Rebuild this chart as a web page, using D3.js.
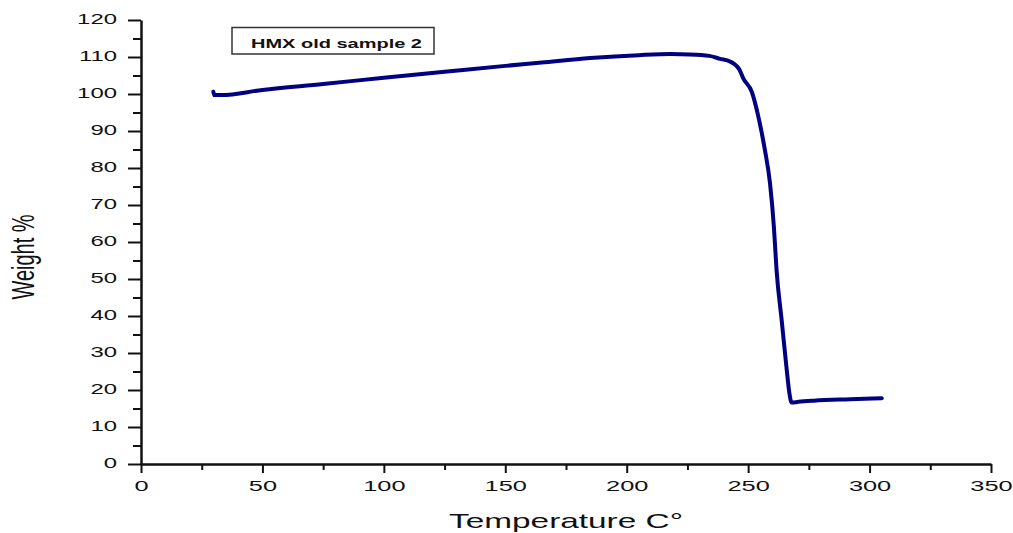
<!DOCTYPE html>
<html>
<head>
<meta charset="utf-8">
<script src="https://cdn.jsdelivr.net/npm/d3@7"></script>
<style>
  html, body { margin: 0; padding: 0; background: #fff; }
  svg { display: block; }
  text { font-family: "Liberation Sans", Arial, sans-serif; fill: #111; }
</style>
</head>
<body>
<svg id="chart" width="1013" height="533"></svg>
<script>
// ---- data ----
const temperature = [29.8, 30.2, 33, 50, 75, 100, 125, 150, 165, 185, 205, 218, 226, 234, 238.5, 242.5, 245.5, 246.5, 248, 251.5, 254.2, 256.9, 259, 260.6, 261.7, 263.8, 265.9, 267, 267.9, 270.7, 277, 292, 305];
const weight      = [100.6, 99.7, 99.7, 101.1, 102.7, 104.4, 106.0, 107.6, 108.5, 109.7, 110.5, 110.8, 110.7, 110.3, 109.5, 108.8, 107.4, 106.5, 104.2, 100.6, 93.9, 84.9, 75.9, 64.1, 52.4, 38.9, 25.4, 19.1, 16.6, 16.8, 17.1, 17.5, 17.8];
const xTicks = [0, 50, 100, 150, 200, 250, 300, 350];
const xMinorTicks = [25, 75, 125, 175, 225, 275, 325];
const yTicks = [0, 10, 20, 30, 40, 50, 60, 70, 80, 90, 100, 110, 120];
const yMinorTicks = [5, 15, 25, 35, 45, 55, 65, 75, 85, 95, 105, 115];
const legendLabel = "HMX old sample 2";
const xTitle = "Temperature C°";
const yTitle = "Weight %";

const data = temperature.map((t, i) => ({ t, w: weight[i] }));

// ---- layout ----
const svg = d3.select("#chart");
const plotLeft = 141, plotRight = 991, plotTop = 20, plotBottom = 464;
const stretch = 1.65; // horizontal glyph stretch seen in the reference

const x = d3.scaleLinear().domain([0, 350]).range([plotLeft, plotRight]);
const y = d3.scaleLinear().domain([0, 120]).range([plotBottom, plotTop]);

// minor ticks
svg.append("g")
  .attr("transform", `translate(0,${plotBottom})`)
  .call(d3.axisBottom(x).tickValues(xMinorTicks).tickSize(6).tickFormat(""))
  .call(g => g.select(".domain").remove())
  .call(g => g.selectAll("line").attr("stroke", "#111").attr("stroke-width", 2));
svg.append("g")
  .attr("transform", `translate(${plotLeft},0)`)
  .call(d3.axisLeft(y).tickValues(yMinorTicks).tickSize(8).tickFormat(""))
  .call(g => g.select(".domain").remove())
  .call(g => g.selectAll("line").attr("stroke", "#111").attr("stroke-width", 2));

// x axis
const xAxis = svg.append("g")
  .attr("transform", `translate(0,${plotBottom})`)
  .call(d3.axisBottom(x).tickValues(xTicks).tickSize(9).tickSizeOuter(0).tickFormat(d3.format("d")));
xAxis.select(".domain").attr("stroke", "#111").attr("stroke-width", 2.5);
xAxis.selectAll("line").attr("stroke", "#111").attr("stroke-width", 2);
xAxis.selectAll("text")
  .attr("y", 17).attr("dy", "0.71em")
  .attr("transform", "scale(1.75,1)")
  .style("font-size", "14.5px").style("fill", "#111");

// y axis
const yAxis = svg.append("g")
  .attr("transform", `translate(${plotLeft},0)`)
  .call(d3.axisLeft(y).tickValues(yTicks).tickSize(13).tickSizeOuter(0).tickFormat(d3.format("d")));
yAxis.select(".domain").attr("stroke", "#111").attr("stroke-width", 2.5);
yAxis.selectAll("line").attr("stroke", "#111").attr("stroke-width", 2);
yAxis.selectAll("text")
  .attr("x", -24 / stretch).attr("dy", "0.25em")
  .attr("transform", `scale(${stretch},1)`)
  .style("font-size", "14.5px").style("fill", "#111");

// data line
svg.append("path")
  .datum(data)
  .attr("fill", "none")
  .attr("stroke", "#000080")
  .attr("stroke-width", 4)
  .attr("stroke-linejoin", "round")
  .attr("stroke-linecap", "round")
  .attr("d", d3.line().x(d => x(d.t)).y(d => y(d.w)).curve(d3.curveMonotoneX));

// legend box
svg.append("rect")
  .attr("x", 232).attr("y", 27.5).attr("width", 202).attr("height", 26.5)
  .attr("fill", "#fff").attr("stroke", "#333").attr("stroke-width", 1.5);
svg.append("text")
  .attr("x", 251).attr("y", 48)
  .attr("textLength", 171).attr("lengthAdjust", "spacingAndGlyphs")
  .style("font-size", "12px").style("font-weight", "bold")
  .text(legendLabel);

// axis titles
svg.append("text")
  .attr("x", 449).attr("y", 528)
  .attr("textLength", 234).attr("lengthAdjust", "spacingAndGlyphs")
  .style("font-size", "21px")
  .text(xTitle);

svg.append("text")
  .attr("transform", `translate(34,257) scale(1.6,1) rotate(-90)`)
  .attr("text-anchor", "middle")
  .style("font-size", "20px")
  .text(yTitle);
</script>
</body>
</html>
